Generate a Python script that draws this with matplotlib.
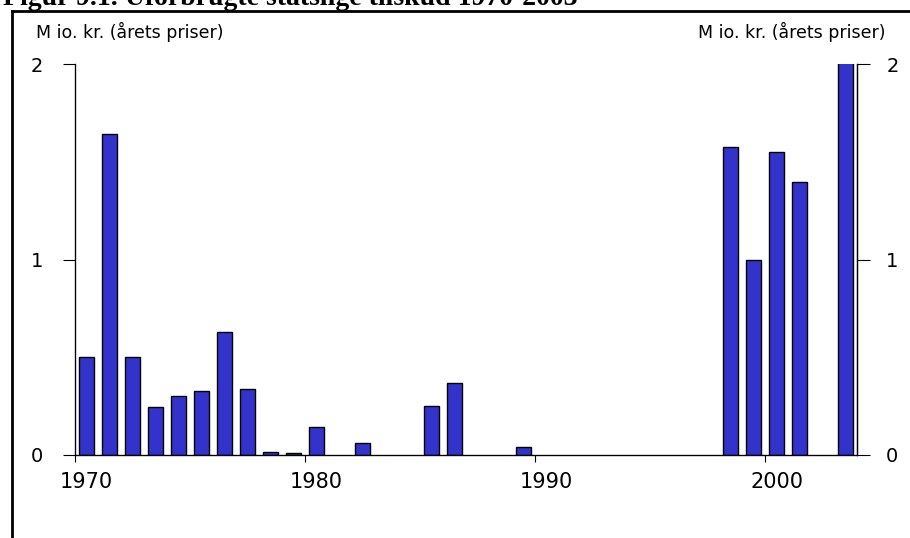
import matplotlib.pyplot as plt
import numpy as np

years = list(range(1970, 2004))
values = [0.50, 1.64, 0.50, 0.247, 0.30, 0.326, 0.628, 0.336, 0.015, 0.008,
          0.143, 0.0, 0.061, 0.0, 0.0, 0.252, 0.368, 0.0, 0.0, 0.041,
          0.0, 0.0, 0.0, 0.0, 0.0, 0.0, 0.0, 0.0, 1.575, 0.998,
          1.55, 1.398, 0.0, 2.2]
yticks = [0, 1, 2]
xlabel_years = [1970, 1980, 1990, 2000]
unit_label = 'M io. kr. (årets priser)'
title = 'Figur 9.1. Uforbrugte statslige tilskud 1970-2003'

plt.rcParams['font.family'] = ['DejaVu Sans']

fig = plt.figure(figsize=(9.1, 5.38), dpi=100)
ax = fig.add_axes([75/910, 1-455/538, (857-75)/910, (455-64)/538])

x = np.arange(len(years))
vals = np.array(values)
nz = vals > 0
# years with nothing spent get no bar at all
ax.bar(x[nz], vals[nz], width=0.68, color='#3333CC', edgecolor='black', linewidth=1)

ax.set_xlim(-0.5, len(years) - 0.5)
ax.set_ylim(0, 2)

# ticks between categories, labels centered on the category
ax.set_xticks([years.index(y) - 0.5 for y in xlabel_years])
ax.set_xticklabels([])
ax.set_xticks([years.index(y) for y in xlabel_years], minor=True)
ax.set_xticklabels([str(y) for y in xlabel_years], minor=True, fontsize=15)
ax.tick_params(axis='x', which='major', length=5, width=0.8, direction='out')
ax.tick_params(axis='x', which='minor', length=0, pad=12)

ax.set_yticks(yticks)
ax.set_yticklabels([str(t) for t in yticks], fontsize=14)
ax.tick_params(axis='y', length=9, width=0.8, pad=14)

ax.spines['top'].set_visible(False)
for s in ['left', 'right', 'bottom']:
    ax.spines[s].set_linewidth(0.9)

ax2 = ax.twinx()
ax2.set_ylim(0, 2)
ax2.set_yticks(yticks)
ax2.set_yticklabels([str(t) for t in yticks], fontsize=14)
ax2.tick_params(axis='y', length=9, width=0.8, pad=12)
ax2.spines['top'].set_visible(False)
ax2.spines['right'].set_linewidth(0.9)

fig.text(36/910, 1-32/538, unit_label, fontsize=12.5, va='center', ha='left')
fig.text(885/910, 1-32/538, unit_label, fontsize=12.5, va='center', ha='right')

# frame lines around the figure (left and top only)
fig.add_artist(plt.Line2D([12/910, 12/910], [0, 1-11/538], color='black', lw=2))
fig.add_artist(plt.Line2D([12/910, 1], [1-11/538, 1-11/538], color='black', lw=2))

fig.text(3/910, 1-5/538, title, fontsize=20, fontweight='bold',
         family=['Liberation Serif', 'DejaVu Serif'], va='baseline', ha='left')

fig.savefig('out.png', dpi=100)
